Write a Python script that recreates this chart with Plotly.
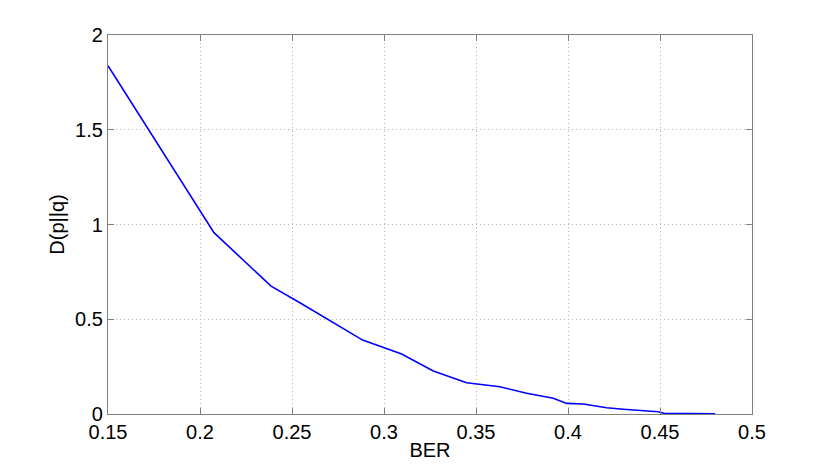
import plotly.graph_objects as go

ber = [0.15, 0.176, 0.2076, 0.2386, 0.2543, 0.2884, 0.3096, 0.3268, 0.3449, 0.363,
       0.3775, 0.392, 0.3993, 0.4083, 0.421, 0.43, 0.449, 0.452, 0.461, 0.48]
dpq = [1.838, 1.44, 0.957, 0.675, 0.587, 0.39, 0.317, 0.227, 0.165, 0.144,
       0.109, 0.083, 0.056, 0.053, 0.033, 0.025, 0.012, 0.004, 0.002, 0.001]

x_ticks = [0.15, 0.2, 0.25, 0.3, 0.35, 0.4, 0.45, 0.5]
x_labels = ["0.15", "0.2", "0.25", "0.3", "0.35", "0.4", "0.45", "0.5"]
y_ticks = [0, 0.5, 1, 1.5, 2]
y_labels = ["0", "0.5", "1", "1.5", "2"]

FONT = "Liberation Sans, Arial, sans-serif"

fig = go.Figure()
fig.add_trace(go.Scatter(x=ber, y=dpq, mode="lines",
                         line=dict(color="#0000ff", width=1.6), showlegend=False))

axis_common = dict(
    showline=True, linecolor="#808080", linewidth=1.3, mirror="ticks",
    ticks="inside", ticklen=6, tickcolor="#808080", tickwidth=1,
    showgrid=True, gridcolor="#b4b4b4", griddash="1px,3px", gridwidth=1,
    zeroline=False, automargin=False,
    tickfont=dict(family=FONT, size=20, color="black"),
)

fig.update_xaxes(range=[0.15, 0.5], tickvals=x_ticks, ticktext=x_labels,
                 title=dict(text="BER", standoff=0,
                            font=dict(family=FONT, size=20, color="black")),
                 **axis_common)
fig.update_yaxes(range=[0, 2], tickvals=y_ticks, ticktext=y_labels,
                 title=dict(text="D(p||q)", standoff=5,
                            font=dict(family=FONT, size=20, color="black")),
                 **axis_common)

fig.update_layout(width=822, height=459, margin=dict(l=100, r=78, t=27, b=53),
                  paper_bgcolor="white", plot_bgcolor="white")

fig.write_html("out.html")
